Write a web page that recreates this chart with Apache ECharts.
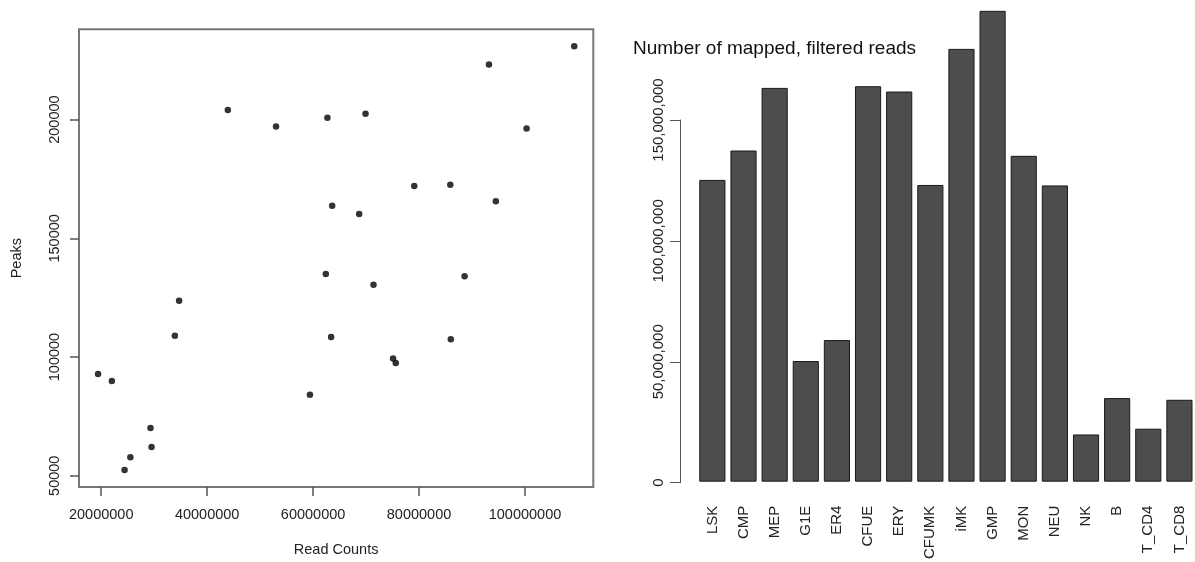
<!DOCTYPE html>
<html>
<head>
<meta charset="utf-8">
<script src="https://cdn.jsdelivr.net/npm/echarts@6/dist/echarts.min.js"></script>
<style>
html,body{margin:0;padding:0;background:#fff;}
#c{width:1195px;height:562px;}
</style>
</head>
<body>
<div id="c"></div>
<script>
// ---- Left panel: scatter of read counts vs peaks ----
const readCounts = [19400000, 22000000, 24400000, 25500000, 29300000, 29500000, 33900000, 34700000,
  43900000, 53000000, 59400000, 62400000, 62700000, 63400000, 63600000, 68700000, 69900000,
  71400000, 75100000, 75600000, 79100000, 85900000, 86000000, 88600000, 93200000, 94500000,
  100300000, 109300000];
const peaks = [92863, 89942, 52378, 57804, 70075, 62145, 109015, 123748,
  204048, 197078, 84098, 135017, 200835, 108472, 163689, 160225, 202504,
  130427, 99416, 97454, 172037, 172580, 107470, 134000, 223247, 165651,
  196244, 230885];
const scatterXTicks = [20000000, 40000000, 60000000, 80000000, 100000000];
const scatterYTicks = [50000, 100000, 150000, 200000];
const scatterXRange = [15800000, 112900000];
const scatterYRange = [45260, 238040];

// ---- Right panel: bar chart of mapped, filtered reads ----
const cellTypes = ['LSK','CMP','MEP','G1E','ER4','CFUE','ERY','CFUMK','iMK','GMP','MON','NEU','NK','B','T_CD4','T_CD8'];
const mappedReads = [125300000, 137500000, 163500000, 50100000, 58800000, 164200000, 162000000, 123200000,
  179700000, 195500000, 135300000, 123000000, 19600000, 34700000, 22000000, 34000000];
const barYTicks = [0, 50000000, 100000000, 150000000];
const barTitle = 'Number of mapped, filtered reads';

const FONT = 'Liberation Sans, Arial, Helvetica, sans-serif';
const TXT = '#222';

const scatterData = readCounts.map((x, i) => [x, peaks[i]]);

const chart = echarts.init(document.getElementById('c'), null, {renderer: 'canvas'});
chart.setOption({
  animation: false,
  backgroundColor: '#fff',
  textStyle: {fontFamily: FONT},
  title: {
    text: barTitle,
    left: 633, top: 39, padding: 0,
    textStyle: {fontFamily: FONT, fontSize: 19, fontWeight: 'normal', color: '#111'}
  },
  grid: [
    {left: 79, top: 29.3, width: 514.3, height: 460.7, show: true, borderColor: '#777', borderWidth: 2, backgroundColor: 'transparent'},
    {left: 696.8, right: 0, top: 0, bottom: 79.3},
    {left: 680, width: 1, top: 120, bottom: 79.3}
  ],
  xAxis: [
    {
      type: 'value', gridIndex: 0, min: scatterXRange[0], max: scatterXRange[1],
      name: 'Read Counts', nameLocation: 'middle', nameGap: 55,
      nameTextStyle: {fontFamily: FONT, fontSize: 14.5, color: TXT},
      axisLine: {show: false},
      splitLine: {show: false},
      axisTick: {show: true, length: 9, customValues: scatterXTicks, lineStyle: {color: '#555', width: 1.5}},
      axisLabel: {customValues: scatterXTicks, margin: 20, fontSize: 14.5, color: TXT, fontFamily: FONT,
        formatter: v => String(v)}
    },
    {
      type: 'category', gridIndex: 1, data: cellTypes,
      axisLine: {show: false}, axisTick: {show: false},
      axisLabel: {interval: 0, rotate: 90, margin: 24, fontSize: 15, color: TXT, fontFamily: FONT}
    },
    {type: 'value', gridIndex: 2, show: false, min: 0, max: 1}
  ],
  yAxis: [
    {
      type: 'value', gridIndex: 0, min: scatterYRange[0], max: scatterYRange[1],
      name: 'Peaks', nameLocation: 'middle', nameGap: 55,
      nameTextStyle: {fontFamily: FONT, fontSize: 14.5, color: TXT},
      axisLine: {show: false},
      splitLine: {show: false},
      axisTick: {show: true, length: 9, customValues: scatterYTicks, lineStyle: {color: '#555', width: 1.5}},
      axisLabel: {customValues: scatterYTicks, rotate: 90, margin: 17, fontSize: 14.5, color: TXT, fontFamily: FONT,
        formatter: v => String(v)}
    },
    {type: 'value', gridIndex: 1, show: false, min: 0, max: 200000000},
    {
      type: 'value', gridIndex: 2, min: 0, max: 150000000, interval: 50000000,
      axisLine: {show: true, lineStyle: {color: '#555', width: 1}},
      axisTick: {show: true, length: 10, lineStyle: {color: '#555', width: 1}},
      splitLine: {show: false},
      axisLabel: {customValues: barYTicks, rotate: 90, margin: 14, fontSize: 15, color: TXT, fontFamily: FONT,
        formatter: v => Number(v).toLocaleString('en-US')}
    }
  ],
  series: [
    {
      type: 'scatter', xAxisIndex: 0, yAxisIndex: 0,
      data: scatterData, symbol: 'circle', symbolSize: 6.5,
      itemStyle: {color: '#000'}
    },
    {
      type: 'bar', xAxisIndex: 1, yAxisIndex: 1,
      data: mappedReads, barCategoryGap: '16%',
      itemStyle: {color: '#4d4d4d', borderColor: '#1a1a1a', borderWidth: 1}
    },
    {
      type: 'scatter', xAxisIndex: 2, yAxisIndex: 2, data: [], silent: true
    }
  ]
});
</script>
</body>
</html>
